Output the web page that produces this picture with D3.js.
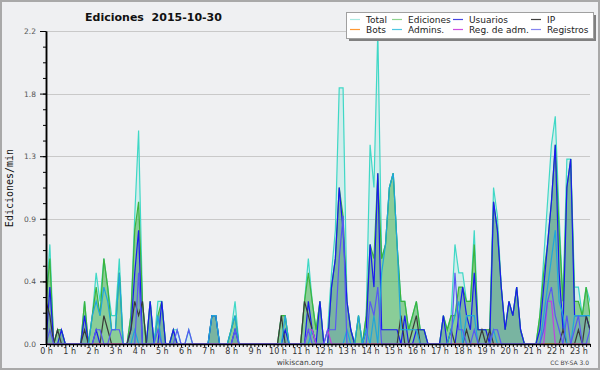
<!DOCTYPE html>
<html>
<head>
<meta charset="utf-8">
<script src="https://cdn.jsdelivr.net/npm/d3@7"></script>
<style>
  body { margin: 0; background: #fff; }
  svg { display: block; }
</style>
</head>
<body>
<svg width="600" height="370"></svg>
<script>
// tick labels
const hourLabels = ['0 h','1 h','2 h','3 h','4 h','5 h','6 h','7 h','8 h','9 h','10 h','11 h',
  '12 h','13 h','14 h','15 h','16 h','17 h','18 h','19 h','20 h','21 h','22 h','23 h'];
const yTickValues = [0, 0.44, 0.88, 1.32, 1.76, 2.2];
const yTickLabels = ['0.0', '0.4', '0.9', '1.3', '1.8', '2.2'];

// ediciones/min, una cifra cada 10 minutos (144 puntos)
const total = [
  .3,.7,0,.1,.1,0,0,0,0,0,.3,0,   .2,.5,.3,.6,.4,.2,.2,.6,0,0,.2,.9,
  1.5,.3,0,.3,0,.3,.3,0,0,.1,.1,0, 0,.1,0,0,0,0,0,.2,.2,0,0,0,
  .1,.3,0,0,0,0,0,0,0,0,0,0,      0,.2,.2,0,0,0,0,.3,.6,.3,.1,.3,
  0,.1,.5,.8,1.8,1.8,.3,.1,0,.2,0,.2, 1.4,1.1,2.2,.6,.7,1.1,1.2,.7,.3,.3,.1,.2,
  .3,.1,.1,0,0,0,0,.2,.1,.2,.7,.5, .5,.3,.3,.8,.1,.1,.1,.1,1.1,.9,.4,.1,
  .3,.2,.4,.1,0,0,0,0,.2,.6,1.0,1.4, 1.6,.9,.3,1.3,1.3,.4,.4,.2,.4,.3,.2,.1
];
const ediciones = [
  .3,.6,0,.1,.1,0,0,0,0,0,.3,0,   .2,.4,.2,.6,.4,.1,.1,.5,0,0,.2,.8,
  1.0,.3,0,.3,0,.2,.3,0,0,.1,0,0,  0,0,0,0,0,0,0,.2,.2,0,0,0,
  .1,.2,0,0,0,0,0,0,0,0,0,0,      0,.2,.2,0,0,0,0,.3,.5,.3,.1,.3,
  0,0,.4,.6,1.1,.9,.3,.1,0,.2,0,.2, .7,.6,1.2,.6,.7,1.1,1.2,.7,.3,.3,.1,.2,
  .3,.1,.1,0,0,0,0,.2,.1,.2,.2,.4, .4,.3,.3,.7,.1,.1,.1,.1,1.0,.8,.4,.1,
  .3,.2,.4,.1,0,0,0,0,.2,.5,.7,1.0, 1.4,.8,.3,1.1,1.3,.3,.3,.2,.4,.2,.2,.1
];
const usuarios = [
  0,.4,0,0,.1,0,0,0,0,0,.2,0,     0,.1,0,0,0,0,0,0,0,0,.1,.5,
  .8,0,0,.3,0,0,.3,0,0,.1,0,0,     0,0,0,0,0,0,0,.2,.2,0,0,0,
  0,.1,0,0,0,0,0,0,0,0,0,0,       0,0,.1,0,0,0,0,0,.3,.1,0,.3,
  0,0,.4,.6,1.1,.8,.3,.1,0,0,0,.1, .7,.4,1.2,.1,.1,.1,.1,.1,0,.2,0,0,
  .1,.1,.1,0,0,0,0,.2,0,0,0,.2,   .4,.2,.1,.5,.1,.1,.1,0,1.0,.8,.4,.1,
  .3,.2,.4,.1,0,0,0,0,.1,.4,.7,1.0, 1.4,.5,.1,1.1,1.3,.2,.2,.2,.2,.1,.1,0
];
const ip = [
  .3,.2,0,.1,0,0,0,0,0,0,.1,0,    0,0,0,.2,.1,0,0,0,0,0,.1,.3,
  .2,.3,0,0,0,0,0,0,0,0,0,0,      0,0,0,0,0,0,0,0,0,0,0,0,
  0,0,0,0,0,0,0,0,0,0,0,0,        0,.2,0,0,0,0,0,.3,.2,.1,0,0,
  0,0,0,0,0,0,0,0,0,0,0,0,        0,0,0,0,0,0,0,0,.2,0,0,.1,
  .2,0,0,0,0,0,0,0,0,.1,0,0,      0,.1,0,0,0,.1,0,.1,0,0,0,0,
  0,0,0,0,0,0,0,0,0,0,0,0,        0,0,.1,0,0,0,.1,0,.2,.1,.1,0
];
const bots = new Array(144).fill(0);
const admins = [
  0,0,0,0,0,0,0,0,0,0,0,0,        .2,.3,.2,.4,.3,.1,.1,.5,0,0,0,.1,
  0,0,0,0,0,.2,0,0,0,0,0,0,       0,0,0,0,0,0,0,.2,.2,0,0,0,
  .1,.2,0,0,0,0,0,0,0,0,0,0,      0,0,.2,0,0,0,0,0,0,.1,0,0,
  0,0,0,0,0,0,.1,0,0,.2,0,.1,     0,.2,0,.5,.7,1.1,1.2,.7,.1,.1,.1,.1,
  .1,0,0,0,0,0,0,0,0,.1,.2,.3,    0,.2,.2,.2,0,0,0,0,.1,0,0,0,
  0,0,0,0,0,0,0,0,0,.2,.4,.6,     .8,.3,.2,0,0,.2,.2,.2,.2,.2,.1,0
];
const regAdm = [
  0,0,0,0,0,0,0,0,0,0,0,0,        0,0,0,0,0,0,0,0,0,0,0,0,
  0,0,0,0,0,0,0,0,0,0,0,0,        0,0,0,0,0,0,0,0,0,0,0,0,
  0,0,0,0,0,0,0,0,0,0,0,0,        0,0,0,0,0,0,0,0,.1,.1,0,0,
  0,.1,0,0,0,0,0,0,0,0,0,0,       0,0,0,0,0,0,0,0,0,0,0,0,
  0,0,0,0,0,0,0,0,0,0,0,0,        0,0,0,0,0,0,0,0,0,0,0,0,
  0,0,0,0,0,0,0,0,0,0,.3,.3,      0,0,0,0,0,0,0,0,0,0,0,0
];
const registros = [
  0,.1,0,0,0,0,0,0,0,0,0,0,       0,.1,.1,0,0,.1,.1,.1,0,0,0,0,
  .5,0,0,0,0,.1,0,0,0,0,.1,0,     0,.1,0,0,0,0,0,0,0,0,0,0,
  0,.1,0,0,0,0,0,0,0,0,0,0,       0,0,0,0,0,0,0,0,.1,0,0,0,
  0,.1,.1,.1,.6,.9,0,0,0,0,0,0,   .3,.2,.4,0,0,0,0,0,0,0,0,0,
  0,0,0,0,0,0,0,0,0,0,.5,.1,      .1,0,0,.1,0,0,0,0,.1,.1,0,0,
  0,0,0,0,0,0,0,0,0,.1,.3,.4,     .2,.1,0,.2,0,.1,.2,0,0,.1,0,0
];

const legendNames = ['Total', 'Ediciones', 'Usuarios', 'IP', 'Bots', 'Admins.', 'Reg. de adm.', 'Registros'];

var svg = d3.select('svg');

// fondo y marco
svg.append('rect').attr('width', 600).attr('height', 370).attr('fill', '#eff0f2');
svg.append('rect').attr('x', 1).attr('y', 1).attr('width', 598).attr('height', 368)
  .attr('fill', 'none').attr('stroke', '#a9a9a9').attr('stroke-width', 2);

const x = d3.scaleLinear().domain([0, 141]).range([46, 590]);
const y = d3.scaleLinear().domain([0, 2.2]).range([344, 31]);

svg.append('defs').append('clipPath').attr('id', 'plot')
  .append('rect').attr('x', 46).attr('y', 20).attr('width', 544).attr('height', 325);

// líneas de la rejilla
svg.append('g')
  .selectAll('line')
  .data(yTickValues.slice(1))
  .enter()
  .append('line')
  .attr('x1', 46).attr('x2', 590)
  .attr('y1', (d) => Math.round(y(d)) + 0.5)
  .attr('y2', (d) => Math.round(y(d)) + 0.5)
  .attr('stroke', '#c9c9c9');

const g = svg.append('g').attr('clip-path', 'url(#plot)');

const area = (arr) => d3.area().x((d, i) => x(i)).y0(y(0)).y1((d) => y(d))(arr);
const line = (arr) => d3.line().x((d, i) => x(i)).y((d) => y(d))(arr);

// áreas rellenas
g.append('path').attr('d', area(total)).attr('fill', 'rgba(64,224,208,0.16)');
g.append('path').attr('d', line(total)).attr('fill', 'none').attr('stroke', '#3fd8c6').attr('stroke-width', 1.2);
g.append('path').attr('d', area(ediciones)).attr('fill', 'rgba(60,170,60,0.48)');
g.append('path').attr('d', line(ediciones)).attr('fill', 'none').attr('stroke', '#3cb43c').attr('stroke-width', 1.2);
g.append('path').attr('d', area(usuarios)).attr('fill', 'rgba(0,0,230,0.12)');

const lines = [
  [usuarios, '#1a1af0'],
  [ip, '#3a3a3a'],
  [bots, '#ff9933'],
  [admins, '#1fa6dc'],
  [regAdm, '#c040e0'],
  [registros, '#5858f2'],
];
lines.forEach(([arr, color]) => {
  g.append('path')
    .attr('d', line(arr))
    .attr('fill', 'none')
    .attr('stroke', color)
    .attr('stroke-width', 1.2);
});

// ejes
const yAxis = svg.append('g').attr('transform', 'translate(46,0)')
  .call(d3.axisLeft(y).tickValues(yTickValues).tickFormat((d, i) => yTickLabels[i]).tickSize(6).tickSizeOuter(0));
svg.append('g').attr('transform', 'translate(46,0)')
  .call(d3.axisLeft(y).tickValues(d3.range(0, 2.21, 0.11)).tickFormat('').tickSize(3).tickSizeOuter(0));
yAxis.selectAll('text').attr('font-family', 'DejaVu Sans').attr('font-size', '7.5px').attr('fill', '#555').attr('dx', '-1');

const xAxis = svg.append('g').attr('transform', 'translate(0,344)')
  .call(d3.axisBottom(x).tickValues(d3.range(0, 142)).tickSize(3).tickSizeOuter(0)
    .tickFormat((d) => (d % 6 === 0 ? hourLabels[d / 6] : '')));
xAxis.selectAll('text').attr('font-family', 'DejaVu Sans').attr('font-size', '8px').attr('fill', '#333').attr('dy', '0.55em');
svg.selectAll('.domain').attr('stroke', '#000').attr('stroke-width', 1.5);
svg.selectAll('.tick line').attr('stroke', '#000');

// títulos
svg.append('text')
  .attr('x', 153.5).attr('y', 21)
  .attr('text-anchor', 'middle')
  .attr('font-family', 'DejaVu Sans').attr('font-weight', 'bold').attr('font-size', '11px')
  .attr('fill', '#111')
  .style('white-space', 'pre')
  .text('Ediciones  2015-10-30');

svg.append('text')
  .attr('transform', 'translate(13,188) rotate(-90)')
  .attr('text-anchor', 'middle')
  .attr('font-family', 'DejaVu Sans Mono').attr('font-size', '10px')
  .attr('fill', '#111')
  .text('Ediciones/min');

svg.append('text')
  .attr('x', 300).attr('y', 365)
  .attr('text-anchor', 'middle')
  .attr('font-family', 'DejaVu Sans').attr('font-size', '7.5px')
  .attr('fill', '#444')
  .text('wikiscan.org');

svg.append('text')
  .attr('x', 589).attr('y', 365)
  .attr('text-anchor', 'end')
  .attr('font-family', 'DejaVu Sans').attr('font-size', '6px')
  .attr('fill', '#444')
  .text('CC BY-SA 3.0');

// leyenda
const legendColors = ['#a9e9e2', '#8fd48f', '#4646e2', '#404040', '#ff9933', '#4ec6e2', '#cc4ee0', '#8585f0'];
const legend = svg.append('g');
legend.append('rect').attr('x', 349).attr('y', 15).attr('width', 247).attr('height', 26).attr('fill', '#808080');
legend.append('rect').attr('x', 346.5).attr('y', 12.5).attr('width', 247).attr('height', 26)
  .attr('fill', '#fff').attr('stroke', '#a0a0a0');
const colX = [350, 392, 453, 531];
legendNames.forEach((name, i) => {
  const cx = colX[i % 4];
  const cy = i < 4 ? 19 : 29;
  legend.append('line').attr('x1', cx).attr('x2', cx + 10).attr('y1', cy + 0.5).attr('y2', cy + 0.5)
    .attr('stroke', legendColors[i]).attr('stroke-width', 1.2);
  legend.append('text').attr('x', cx + 16).attr('y', cy + 3.5)
    .attr('font-family', 'DejaVu Sans').attr('font-size', '9px').attr('fill', '#222')
    .text(name);
});
</script>
</body>
</html>
